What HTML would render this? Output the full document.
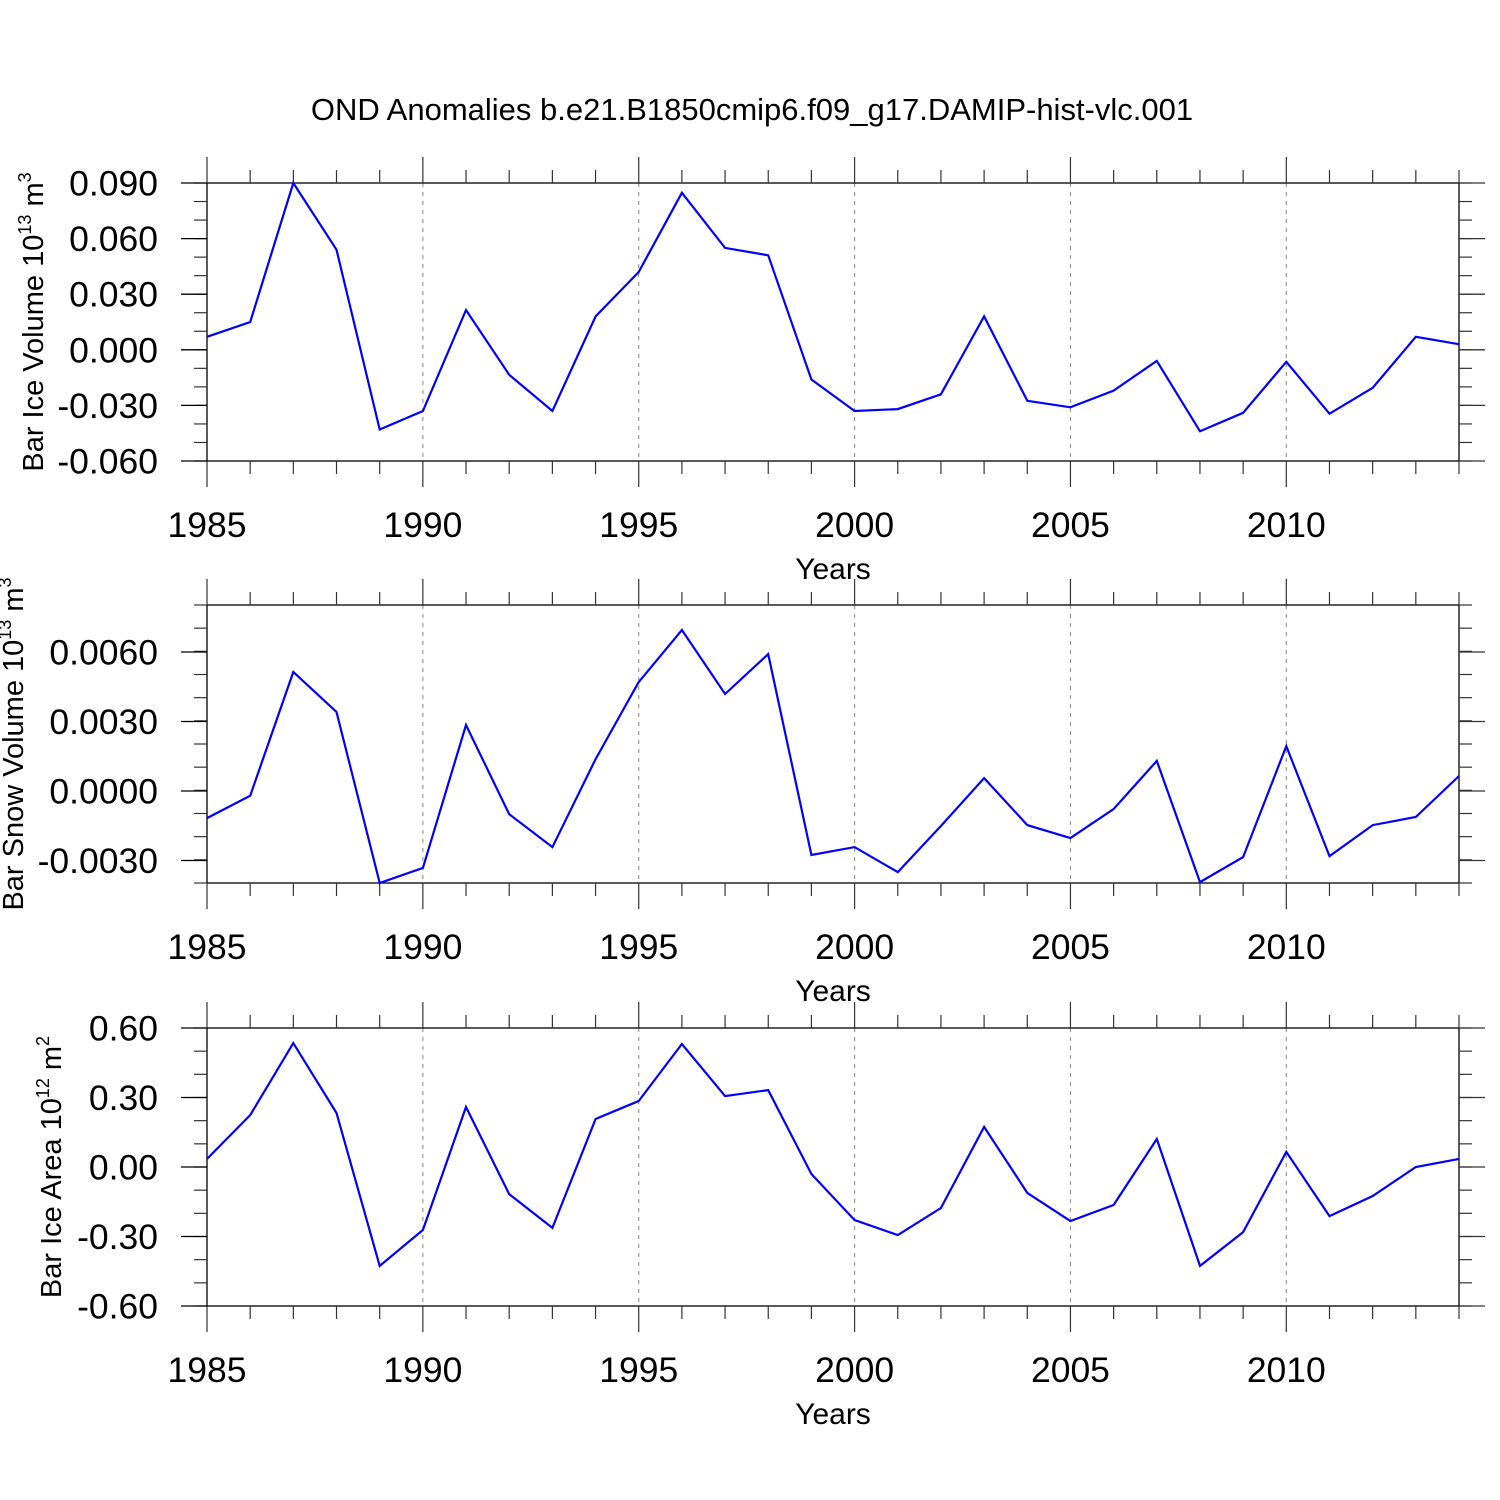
<!DOCTYPE html>
<html><head><meta charset="utf-8"><style>
html,body{margin:0;padding:0;background:#fff;}
svg{display:block;font-family:"Liberation Sans",sans-serif;}
</style></head><body>
<svg id="chart" width="1500" height="1500" viewBox="0 0 1500 1500" xmlns="http://www.w3.org/2000/svg">
<rect width="1500" height="1500" fill="#fff"/>
<text x="752" y="120" font-size="31" text-anchor="middle">OND Anomalies b.e21.B1850cmip6.f09_g17.DAMIP-hist-vlc.001</text>
</svg>
<script>
const years = [1985,1986,1987,1988,1989,1990,1991,1992,1993,1994,1995,1996,1997,1998,1999,2000,2001,2002,2003,2004,2005,2006,2007,2008,2009,2010,2011,2012,2013,2014];
const iceVolume = [0.007,0.015,0.090,0.054,-0.043,-0.033,0.0215,-0.0135,-0.033,0.018,0.042,0.0847,0.055,0.051,-0.016,-0.033,-0.032,-0.024,0.018,-0.0275,-0.031,-0.022,-0.006,-0.044,-0.034,-0.0065,-0.0345,-0.0205,0.007,0.003];
const snowVolume = [-0.00117,-0.0002,0.00514,0.00341,-0.00397,-0.00332,0.00285,-0.001,-0.00242,0.00138,0.0047,0.00695,0.00419,0.00591,-0.00276,-0.00242,-0.0035,-0.00151,0.00056,-0.00147,-0.00203,-0.00078,0.0013,-0.00393,-0.00285,0.00194,-0.00281,-0.00147,-0.00112,0.00065];
const iceArea = [0.035,0.224,0.535,0.233,-0.427,-0.272,0.259,-0.117,-0.263,0.207,0.285,0.531,0.306,0.332,-0.030,-0.229,-0.294,-0.177,0.173,-0.112,-0.233,-0.164,0.121,-0.427,-0.281,0.065,-0.212,-0.125,0.0,0.035];
const xTickLabels = ["1985","1990","1995","2000","2005","2010"];
const iceVolTicks = ["0.090","0.060","0.030","0.000","-0.030","-0.060"];
const snowVolTicks = ["0.0060","0.0030","0.0000","-0.0030"];
const iceAreaTicks = ["0.60","0.30","0.00","-0.30","-0.60"];

const NS="http://www.w3.org/2000/svg";
const svg=document.getElementById('chart');
function mk(tag,attrs,parent){const e=document.createElementNS(NS,tag);for(const k in attrs)e.setAttribute(k,attrs[k]);(parent||svg).appendChild(e);return e;}
const X0=207,X1=1459;
function xs(yr){return X0+(yr-1985)/(2014-1985)*(X1-X0);}

function panel(name,top,bot,ymin,ymax,ticks,minorStep,data,ylabelParts,labelX){
  const g=mk('g',{});
  
  
  const ys=v=>bot-(v-ymin)/(ymax-ymin)*(bot-top);
  for(let yr=1990;yr<=2010;yr+=5){
    const l=mk('line',{x1:xs(yr),x2:xs(yr),y1:top,y2:bot,stroke:'#999','stroke-width':1.2,'stroke-dasharray':'4,5'},g);
    
    
  }
  const fr=mk('rect',{x:X0,y:top,width:X1-X0,height:bot-top,fill:'none',stroke:'#000','stroke-width':1.3},g);
  
  
  for(let yr=1985;yr<=2014;yr++){
    const maj=(yr%5===0);const L=maj?26:13;const x=xs(yr);
    mk('line',{x1:x,x2:x,y1:top,y2:top-L,stroke:'#333','stroke-width':1.2},g);
    mk('line',{x1:x,x2:x,y1:bot,y2:bot+L,stroke:'#333','stroke-width':1.2},g);
  }
  xTickLabels.forEach(s=>{
    const t=mk('text',{x:xs(+s),y:bot+76,'font-size':35.5,'text-anchor':'middle'},g);
    t.textContent=s;
    
    
  });
  const xt=mk('text',{x:833,y:bot+118,'font-size':30,'text-anchor':'middle'},g);
  xt.textContent='Years';
  
  
  const n=Math.round((ymax-ymin)/minorStep);
  for(let i=0;i<=n;i++){
    const v=ymin+i*minorStep;const y=ys(v);
    mk('line',{x1:X0,x2:X0-13,y1:y,y2:y,stroke:'#333','stroke-width':1.2},g);
    mk('line',{x1:X1,x2:X1+13,y1:y,y2:y,stroke:'#333','stroke-width':1.2},g);
  }
  ticks.forEach(s=>{
    const v=parseFloat(s);const y=ys(v);
    mk('line',{x1:X0,x2:X0-26,y1:y,y2:y,stroke:'#000','stroke-width':1.3},g);
    mk('line',{x1:X1,x2:X1+26,y1:y,y2:y,stroke:'#333','stroke-width':1.3},g);
    const t=mk('text',{x:158,y:y+12.5,'font-size':35.5,'text-anchor':'end'},g);
    t.textContent=s;
    
    
  });
  const cy=(top+bot)/2;
  const yt=mk('text',{x:0,y:0,'font-size':29,'text-anchor':'middle',transform:`translate(${labelX},${cy}) rotate(-90)`},g);
  
  
  const a=document.createElementNS(NS,'tspan');a.textContent=ylabelParts[0];yt.appendChild(a);
  const b=document.createElementNS(NS,'tspan');b.setAttribute('dy','-12');b.setAttribute('font-size','18');b.textContent=ylabelParts[1];yt.appendChild(b);
  const c=document.createElementNS(NS,'tspan');c.setAttribute('dy','12');c.textContent=ylabelParts[2];yt.appendChild(c);
  const d=document.createElementNS(NS,'tspan');d.setAttribute('dy','-12');d.setAttribute('font-size','18');d.textContent=ylabelParts[3];yt.appendChild(d);
  const pts=data.map((v,i)=>xs(years[i]).toFixed(1)+','+ys(v).toFixed(1)).join(' ');
  const pl=mk('polyline',{points:pts,fill:'none',stroke:'#0000ff','stroke-width':2.2,'stroke-linejoin':'miter'},g);
  
  
}
panel('ice-volume',183,461,-0.060,0.090,iceVolTicks,0.01,iceVolume,['Bar Ice Volume 10','13',' m','3'],43);
panel('snow-volume',605,883,-0.00397,0.00803,snowVolTicks,0.001,snowVolume,['Bar Snow Volume 10','13',' m','3'],23);
panel('ice-area',1028,1306,-0.60,0.60,iceAreaTicks,0.1,iceArea,['Bar Ice Area 10','12',' m','2'],61);
</script>
</body></html>
